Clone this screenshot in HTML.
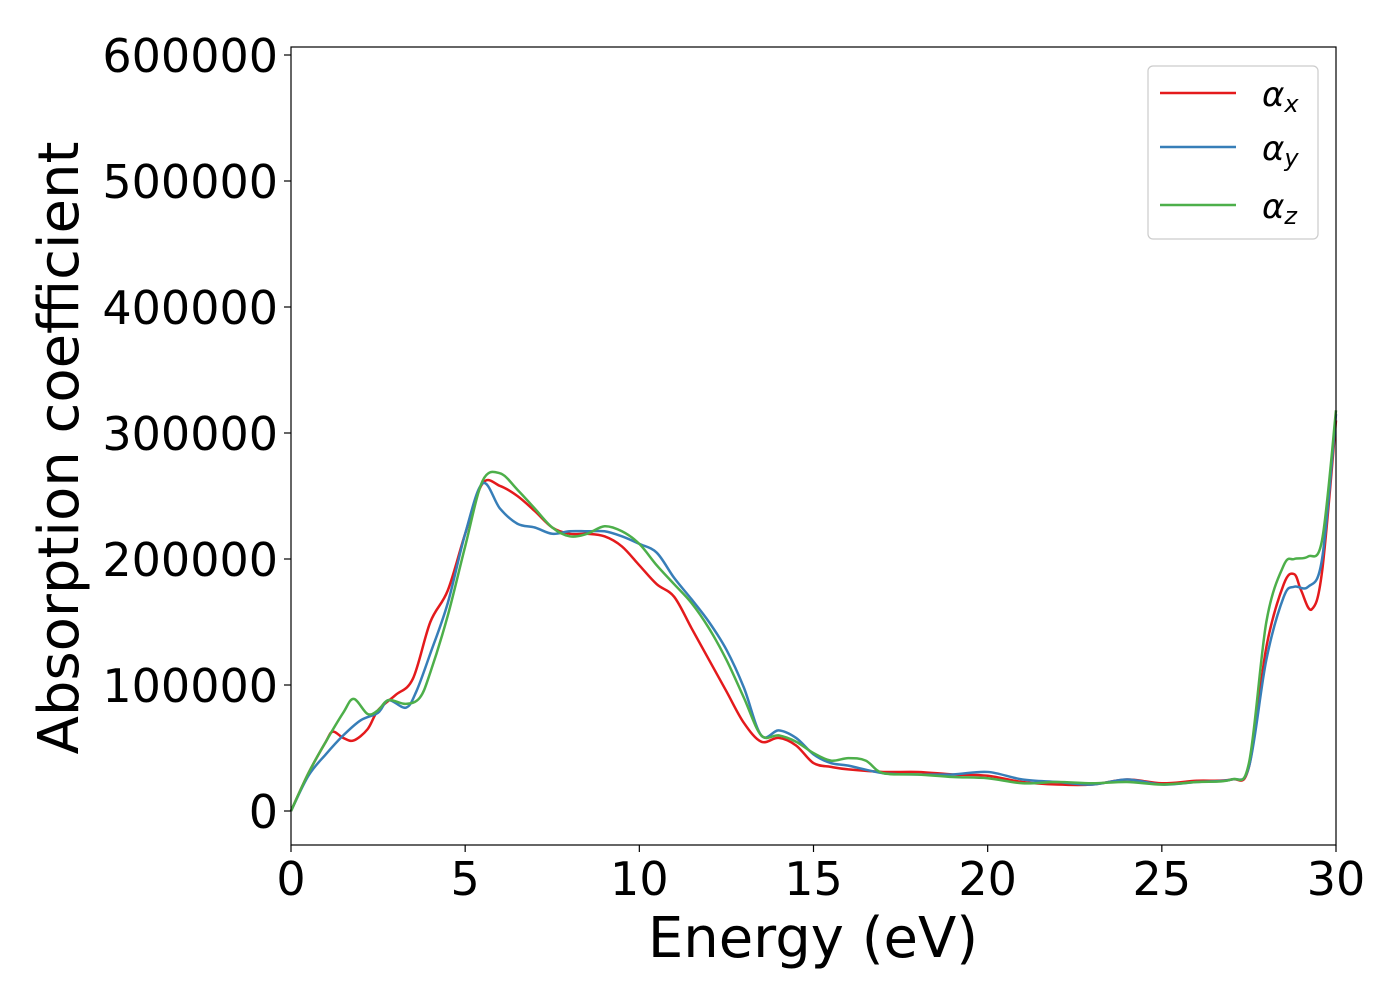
<!DOCTYPE html>
<html><head><meta charset="utf-8"><style>
body{margin:0;background:#fff}
text{font-family:"DejaVu Sans","Liberation Sans",sans-serif}
</style></head><body>
<svg id="chart" width="1400" height="1000">
<rect x="0" y="0" width="1400" height="1000" fill="#fff"/>
<g id="series"></g>
<rect x="291" y="47" width="1045" height="798" fill="none" stroke="#000" stroke-width="1.2"/>
<g id="xt"></g>
<g id="yt"></g>
<text x="813" y="957" font-size="56" text-anchor="middle">Energy (eV)</text>
<text transform="translate(78,448) rotate(-90)" font-size="56" text-anchor="middle">Absorption coefficient</text>
<g>
<rect x="1148" y="66" width="170" height="173" rx="5" fill="#fff" stroke="#ccc" stroke-width="1.2"/>
<line x1="1160" y1="93" x2="1236" y2="93" stroke="#e41a1c" stroke-width="2.5"/>
<text x="1262" y="106" font-size="34" font-style="italic">α<tspan font-size="24" dy="6">x</tspan></text>
<line x1="1160" y1="147" x2="1236" y2="147" stroke="#377eb8" stroke-width="2.5"/>
<text x="1262" y="160" font-size="34" font-style="italic">α<tspan font-size="24" dy="6">y</tspan></text>
<line x1="1160" y1="205" x2="1236" y2="205" stroke="#4daf4a" stroke-width="2.5"/>
<text x="1262" y="218" font-size="34" font-style="italic">α<tspan font-size="24" dy="6">z</tspan></text>
</g>
</svg>
<script>
const xTicks=[0,5,10,15,20,25,30];
const yTicks=[0,100000,200000,300000,400000,500000,600000];
const redX=[0,0.5,1,1.2,1.5,1.8,2.2,2.5,3,3.5,4,4.5,5,5.5,6,6.5,7,7.5,8,8.5,9,9.5,10,10.5,11,11.5,12,12.5,13,13.5,14,14.5,15,15.5,16,17,18,19,20,21,22,23,24,25,26,27,27.5,28,28.5,28.8,29,29.3,29.6,30];
const redY=[0,30000,55000,63000,58000,56000,65000,80000,92000,105000,150000,175000,220000,260000,258000,250000,238000,225000,220000,220000,218000,210000,195000,180000,170000,145000,120000,95000,70000,55000,58000,52000,38000,35000,33000,31000,31000,29000,28000,23000,21000,21000,25000,22000,24000,25000,35000,130000,180000,188000,175000,160000,190000,310000];
const blueX=[0,0.5,1,1.5,2,2.5,2.8,3.3,3.6,4,4.5,5,5.5,6,6.5,7,7.5,8,8.5,9,9.5,10,10.5,11,11.5,12,12.5,13,13.5,14,14.5,15,15.5,16,17,18,19,20,21,22,23,24,25,26,27,27.5,28,28.5,28.8,29.2,29.6,30];
const blueY=[0,28000,45000,60000,72000,78000,88000,82000,95000,125000,165000,220000,260000,240000,228000,225000,220000,222000,222000,222000,218000,212000,205000,185000,168000,150000,128000,98000,60000,64000,58000,45000,38000,36000,30000,29000,29000,31000,25000,23000,21000,25000,21000,23000,25000,35000,120000,170000,178000,178000,200000,315000];
const greenX=[0,0.5,1,1.5,1.8,2.2,2.5,2.8,3.3,3.7,4,4.5,5,5.5,6,6.5,7,7.5,8,8.5,9,9.5,10,10.5,11,11.5,12,12.5,13,13.5,14,14.5,15,15.5,16,16.5,17,18,19,20,21,22,23,24,25,26,27,27.5,28,28.5,28.8,29.2,29.6,30];
const greenY=[0,30000,55000,78000,89000,77000,80000,88000,85000,90000,110000,155000,210000,262000,268000,255000,240000,225000,218000,220000,226000,222000,212000,195000,180000,165000,145000,120000,90000,60000,60000,55000,46000,40000,42000,40000,30000,29000,27000,26000,22000,23000,22000,23000,21000,23000,25000,38000,150000,195000,200000,202000,215000,318000];
const NS="http://www.w3.org/2000/svg";
function sx(v){return 291+v/30*1045;}
function sy(v){return 811-v/100000*126;}
function path(xs,ys){
  const p=xs.map((x,i)=>[sx(x),sy(ys[i])]);
  let d="M"+p[0][0]+","+p[0][1];
  for(let i=0;i<p.length-1;i++){
    const p0=p[Math.max(0,i-1)],p1=p[i],p2=p[i+1],p3=p[Math.min(p.length-1,i+2)];
    const c1=[p1[0]+(p2[0]-p0[0])/6,p1[1]+(p2[1]-p0[1])/6];
    const c2=[p2[0]-(p3[0]-p1[0])/6,p2[1]-(p3[1]-p1[1])/6];
    d+="C"+c1[0]+","+c1[1]+" "+c2[0]+","+c2[1]+" "+p2[0]+","+p2[1];
  }
  return d;
}
const g=document.getElementById('series');
[[redX,redY,'#e41a1c','line-alpha-x'],[blueX,blueY,'#377eb8','line-alpha-y'],[greenX,greenY,'#4daf4a','line-alpha-z']].forEach(s=>{
  const el=document.createElementNS(NS,'path');
  el.setAttribute('d',path(s[0],s[1]));
  el.setAttribute('fill','none');el.setAttribute('stroke',s[2]);el.setAttribute('stroke-width','2.5');
  
  
  g.appendChild(el);
});
const xt=document.getElementById('xt');
xTicks.forEach(t=>{
  const l=document.createElementNS(NS,'line');
  l.setAttribute('x1',sx(t));l.setAttribute('x2',sx(t));l.setAttribute('y1',845);l.setAttribute('y2',852);l.setAttribute('stroke','#000');l.setAttribute('stroke-width','1.2');
  
  
  xt.appendChild(l);
  const tx=document.createElementNS(NS,'text');
  tx.setAttribute('x',sx(t));tx.setAttribute('y',895);tx.setAttribute('font-size','46');tx.setAttribute('text-anchor','middle');
  tx.textContent=t;
  
  
  xt.appendChild(tx);
});
const yt=document.getElementById('yt');
yTicks.forEach(t=>{
  const l=document.createElementNS(NS,'line');
  l.setAttribute('x1',284);l.setAttribute('x2',291);l.setAttribute('y1',sy(t));l.setAttribute('y2',sy(t));l.setAttribute('stroke','#000');l.setAttribute('stroke-width','1.2');
  
  
  yt.appendChild(l);
  const tx=document.createElementNS(NS,'text');
  tx.setAttribute('x',278);tx.setAttribute('y',sy(t)+17);tx.setAttribute('font-size','46');tx.setAttribute('text-anchor','end');
  tx.textContent=t;
  
  
  yt.appendChild(tx);
});
</script>
</body></html>
